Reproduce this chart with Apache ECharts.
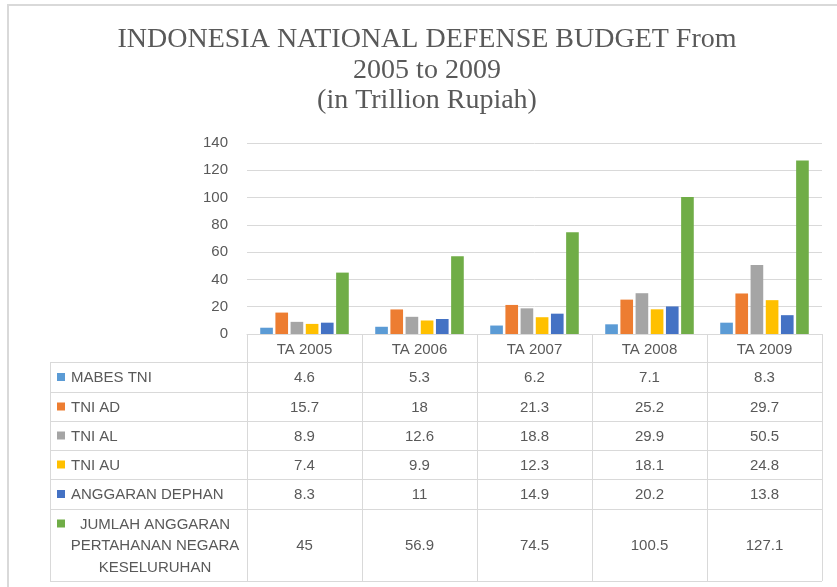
<!DOCTYPE html>
<html>
<head>
<meta charset="utf-8">
<script src="https://cdn.jsdelivr.net/npm/echarts@6/dist/echarts.min.js"></script>
<style>html,body{margin:0;padding:0;background:#fff}#c{width:837px;height:587px}</style>
</head>
<body>
<div id="c"></div>
<script>
var categories = ['TA 2005', 'TA 2006', 'TA 2007', 'TA 2008', 'TA 2009'];
var seriesNames = ['MABES TNI', 'TNI AD', 'TNI AL', 'TNI AU', 'ANGGARAN DEPHAN', 'JUMLAH ANGGARAN PERTAHANAN NEGARA KESELURUHAN'];
var mabesTni = [4.6, 5.3, 6.2, 7.1, 8.3];
var tniAd = [15.7, 18, 21.3, 25.2, 29.7];
var tniAl = [8.9, 12.6, 18.8, 29.9, 50.5];
var tniAu = [7.4, 9.9, 12.3, 18.1, 24.8];
var anggaranDephan = [8.3, 11, 14.9, 20.2, 13.8];
var jumlahAnggaran = [45, 56.9, 74.5, 100.5, 127.1];
var seriesValues = [mabesTni, tniAd, tniAl, tniAu, anggaranDephan, jumlahAnggaran];
var yMin = 0, yMax = 140, yInterval = 20;
var titleLines = ['INDONESIA NATIONAL DEFENSE BUDGET From', '2005 to 2009', '(in Trillion Rupiah)'];
var rowLabelLines = [['MABES TNI'], ['TNI AD'], ['TNI AL'], ['TNI AU'], ['ANGGARAN DEPHAN'], ['JUMLAH ANGGARAN', 'PERTAHANAN NEGARA', 'KESELURUHAN']];

var colors = ['#5B9BD5', '#ED7D31', '#A5A5A5', '#FFC000', '#4472C4', '#70AD47'];
var gridCol = '#D9D9D9';
var textCol = '#595959';
var font = '"Liberation Sans", Arial, sans-serif';
var fs = 15;

var chart = echarts.init(document.getElementById('c'), null, {renderer: 'canvas'});
var series = seriesValues.map(function (vals, i) {
  return {
    name: seriesNames[i], type: 'bar', data: vals,
    itemStyle: {color: colors[i]},
    barGap: '20%', barCategoryGap: '23%'
  };
});
chart.setOption({
  animation: false,
  graphic: [],
  grid: {left: 247, right: 15, top: 143, bottom: 253},
  xAxis: {
    type: 'category', data: categories,
    axisLine: {lineStyle: {color: gridCol, width: 1}},
    axisTick: {show: true, length: 247, interval: 0, lineStyle: {color: gridCol, width: 1}},
    axisLabel: {color: textCol, fontSize: fs, fontFamily: font, margin: 8, interval: 0}
  },
  yAxis: {
    type: 'value', min: yMin, max: yMax, interval: yInterval,
    axisLine: {show: false}, axisTick: {show: false},
    axisLabel: {color: textCol, fontSize: fs, fontFamily: font, margin: 19},
    splitLine: {lineStyle: {color: gridCol, width: 1}}
  },
  series: series
});

// data table built from the arrays, columns positioned from the x axis
var rowTops = [362, 392, 421, 450, 479, 509, 581];
var tableLeft = 50, tableRight = 822;
var g = [];
// outer frame
g.push({type: 'line', shape: {x1: 7, y1: 5, x2: 837, y2: 5}, style: {stroke: gridCol, lineWidth: 2}});
g.push({type: 'line', shape: {x1: 8, y1: 4, x2: 8, y2: 587}, style: {stroke: gridCol, lineWidth: 2}});
// title
var titleFont = '28px "Liberation Serif", "Times New Roman", serif';
titleLines.forEach(function (t, k) {
  g.push({type: 'text', x: 427, y: [40, 71, 101][k], style: {text: t, fill: textCol, font: titleFont, textAlign: 'center', textVerticalAlign: 'middle'}});
});
rowTops.forEach(function (y) {
  g.push({type: 'line', shape: {x1: tableLeft, y1: y + 0.5, x2: tableRight, y2: y + 0.5}, style: {stroke: gridCol, lineWidth: 1}});
});
g.push({type: 'line', shape: {x1: tableLeft + 0.5, y1: rowTops[0], x2: tableLeft + 0.5, y2: rowTops[6]}, style: {stroke: gridCol, lineWidth: 1}});
var colX = categories.map(function (c, i) { return chart.convertToPixel({xAxisIndex: 0}, i); });
seriesValues.forEach(function (vals, r) {
  var top = rowTops[r], bot = rowTops[r + 1];
  var cy = (top + bot) / 2 + 1;
  var lines = rowLabelLines[r];
  var lh = 21.5;
  var firstY = cy - (lines.length - 1) * lh / 2;
  g.push({type: 'rect', shape: {x: 57, y: firstY - 5, width: 8, height: 8}, style: {fill: colors[r]}});
  if (lines.length === 1) {
    g.push({type: 'text', x: 71, y: cy, style: {text: lines[0], fill: textCol, font: fs + 'px ' + font, textAlign: 'left', textVerticalAlign: 'middle'}});
  } else {
    lines.forEach(function (t, k) {
      g.push({type: 'text', x: 155, y: firstY + k * lh, style: {text: t, fill: textCol, font: fs + 'px ' + font, textAlign: 'center', textVerticalAlign: 'middle'}});
    });
  }
  vals.forEach(function (v, i) {
    g.push({type: 'text', x: colX[i], y: cy, style: {text: String(v), fill: textCol, font: fs + 'px ' + font, textAlign: 'center', textVerticalAlign: 'middle'}});
  });
});
chart.setOption({graphic: g});
</script>
</body>
</html>
